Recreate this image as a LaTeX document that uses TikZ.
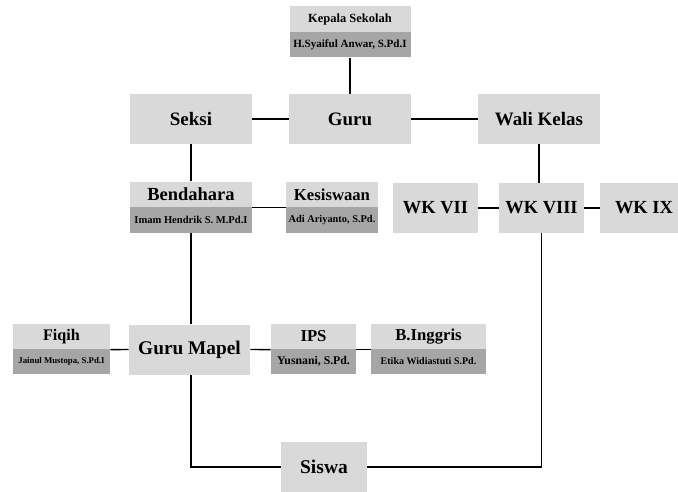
\documentclass[tikz,border=0pt]{standalone}
\usepackage{fontspec}
\setmainfont{Liberation Serif}
\usepackage{tikz}
\pgfdeclarelayer{edgelayer}
\pgfdeclarelayer{nodelayer}
\pgfsetlayers{edgelayer,nodelayer,main}
\definecolor{boxlight}{RGB}{217,217,217}
\definecolor{boxdark}{RGB}{166,166,166}
\tikzstyle{none}=[inner sep=0pt]
\tikzstyle{titlebox}=[inner sep=0pt, fill=boxlight, minimum height=1cm, font=\bfseries\fontsize{10.8}{13}\selectfont]
\tikzstyle{headbox}=[inner sep=0pt, fill=boxlight, minimum height=0.51cm, font=\bfseries\fontsize{9.5}{11}\selectfont]
\tikzstyle{namebox}=[inner sep=0pt, fill=boxdark, minimum height=0.51cm, font=\bfseries\fontsize{6}{7}\selectfont]
\tikzstyle{connector}=[line width=0.8pt]

\begin{document}
\begin{tikzpicture}
	\useasboundingbox (0, 0) rectangle (13.56, -9.84);
	\begin{pgfonlayer}{nodelayer}
		\node [style=headbox, minimum width=2.42cm, font=\bfseries\fontsize{7.1}{8}\selectfont] (0) at (7.0, -0.38) {Kepala Sekolah};
		\node [style=namebox, minimum width=2.42cm, font=\bfseries\fontsize{6.3}{7}\selectfont] (1) at (7.0, -0.89) {H.Syaiful Anwar, S.Pd.I};
		\node [style=titlebox, minimum width=2.44cm] (2) at (3.82, -2.38) {Seksi};
		\node [style=titlebox, minimum width=2.44cm] (3) at (7.0, -2.38) {Guru};
		\node [style=titlebox, minimum width=2.44cm] (4) at (10.78, -2.38) {Wali Kelas};
		\node [style=headbox, minimum width=2.44cm, font=\bfseries\fontsize{10.5}{12}\selectfont] (5) at (3.82, -3.89) {Bendahara};
		\node [style=namebox, minimum width=2.44cm] (6) at (3.82, -4.4) {Imam Hendrik S. M.Pd.I};
		\node [style=headbox, minimum width=1.84cm] (7) at (6.64, -3.89) {Kesiswaan};
		\node [style=namebox, minimum width=1.84cm, font=\bfseries\fontsize{5.9}{7}\selectfont] (8) at (6.64, -4.4) {Adi Ariyanto, S.Pd.};
		\node [style=titlebox, minimum width=1.7cm, font=\bfseries\fontsize{10.5}{12}\selectfont] (9) at (8.71, -4.16) {WK VII};
		\node [style=titlebox, minimum width=1.7cm, font=\bfseries\fontsize{10.5}{12}\selectfont] (10) at (10.83, -4.16) {WK VIII};
		\node [style=titlebox, minimum width=1.76cm, font=\bfseries\fontsize{10.5}{12}\selectfont] (11) at (12.88, -4.16) {WK IX};
		\node [style=headbox, minimum width=1.94cm, font=\bfseries\fontsize{9.2}{11}\selectfont] (12) at (1.23, -6.73) {Fiqih};
		\node [style=namebox, minimum width=1.94cm, font=\bfseries\fontsize{5}{6}\selectfont] (13) at (1.23, -7.23) {Jainul Mustopa, S.Pd.I};
		\node [style=titlebox, minimum width=2.42cm, font=\bfseries\fontsize{11}{13}\selectfont] (14) at (3.79, -6.99) {Guru Mapel};
		\node [style=headbox, minimum width=1.7cm] (15) at (6.27, -6.73) {IPS};
		\node [style=namebox, minimum width=1.7cm, font=\bfseries\fontsize{6.7}{8}\selectfont] (16) at (6.27, -7.23) {Yusnani, S.Pd.};
		\node [style=headbox, minimum width=2.3cm] (17) at (8.57, -6.73) {B.Inggris};
		\node [style=namebox, minimum width=2.3cm, font=\bfseries\fontsize{5.7}{7}\selectfont] (18) at (8.57, -7.23) {Etika Widiastuti S.Pd.};
		\node [style=titlebox, minimum width=1.72cm, font=\bfseries\fontsize{11.1}{13}\selectfont] (19) at (6.48, -9.34) {Siswa};
	\end{pgfonlayer}
	\begin{pgfonlayer}{edgelayer}
		\draw [style=connector] (1.south) to (3.north);
		\draw [style=connector] (2.east) to (3.west);
		\draw [style=connector] (3.east) to (4.west);
		\draw [style=connector] (2.south) to (5.north);
		\draw [style=connector] (5.south east) to (7.south west);
		\draw [style=connector] (4.south) to (4.south |- 10.north);
		\draw [style=connector] (9.east) to (10.west);
		\draw [style=connector] (10.east) to (11.west);
		\draw [style=connector] (6.south) to (6.south |- 14.north);
		\draw [style=connector] (12.south east) to (14.west);
		\draw [style=connector] (14.east) to (15.south west);
		\draw [style=connector] (15.south east) to (17.south west);
		\draw [style=connector] (6.south |- 14.south) |- (19.west);
		\draw [style=connector] (19.east) -| (10.south);
	\end{pgfonlayer}
\end{tikzpicture}
\end{document}
